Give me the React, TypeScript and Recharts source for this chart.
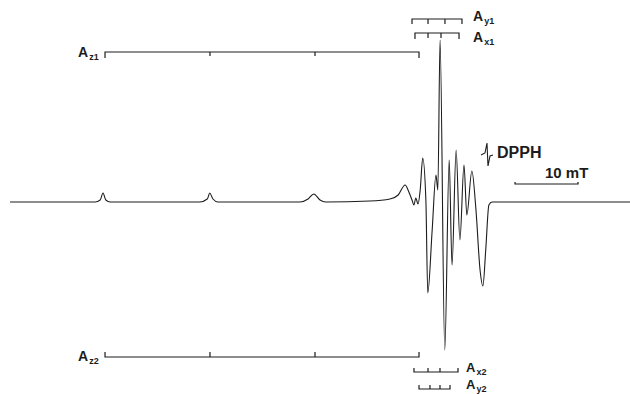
import { Line, LineChart, XAxis, YAxis } from "recharts";

// field in mT, intensity in arbitrary units (baseline = 0)
const fieldMT = [
  1.6, 9.5, 15.1, 15.9, 16.35, 16.8, 17.5, 31.7, 32.9, 33.3, 33.8, 34.6, 47.6, 48.9, 49.8, 50.8, 51.7,
  58.7, 61.9, 63.2, 64.3, 64.9, 65.4, 65.7, 66.0, 66.35, 66.7, 67.1, 67.6, 67.9, 68.6, 69.2, 69.5,
  69.85, 70.6, 71.3, 71.75, 72.4, 73.0, 73.65, 74.1, 74.9, 75.55, 76.2, 76.65, 77.1, 77.6, 78.1, 100,
];
const signal = [
  0, 0, 0, 2, 9, 2, 0, 0, 3, 9, 3, 0, 0, 3, 8, 2, 0,
  1, 3, 7, 17, 10, 2, -3, 4, -2, 12, 44, 2, -91, -28, 27, 12,
  162, -148, 42, -63, 52, -38, 37, -13, 31, -8, -68, -84, -48, -3, 0, 0,
];

const dpphField = [76.35, 76.98, 77.3, 77.46, 77.78, 78.25];
const dpphSignal = [47, 49, 59, 36, 46, 47];

// stick diagrams: line positions (mT)
const az1 = [16.67, 33.33, 50.0, 66.51];
const az2 = [16.67, 33.33, 50.0, 66.51];
const ay1 = [65.4, 67.94, 70.63, 73.33];
const ax1 = [65.87, 67.94, 70.0, 72.86];
const ax2 = [65.71, 67.94, 69.84, 72.7];
const ay2 = [66.51, 68.25, 69.84, 71.43];

const scaleBarStart = 81.75;
const scaleBarLength = 10; // mT

const spectrum = fieldMT.map((b, i) => ({ b, v: signal[i] }));
const dpph = dpphField.map((b, i) => ({ b, v: dpphSignal[i] }));

function bracket(pos: number[], level: number, tick: number, endTick = tick) {
  const pts: { b: number; v: number }[] = [];
  pos.forEach((p, i) => {
    const isEnd = i === 0 || i === pos.length - 1;
    const t = isEnd ? endTick : tick;
    if (i === 0) {
      pts.push({ b: p, v: level + t }, { b: p, v: level });
    } else if (i === pos.length - 1) {
      pts.push({ b: p, v: level }, { b: p, v: level + t });
    } else {
      pts.push({ b: p, v: level }, { b: p, v: level + t }, { b: p, v: level });
    }
  });
  return pts;
}

const sticks = [
  bracket(az1, 150, -4, -6),
  bracket(az2, -155, 5, 5),
  bracket(ay1, 183, -5, -5),
  bracket(ax1, 169, -5, -6),
  bracket(ax2, -170, 4, 4),
  bracket(ay2, -187, 4, 4),
  bracket([scaleBarStart, scaleBarStart + scaleBarLength], 18, 2, 2),
];

const ink = "#1c1c1c";
const font = "'Liberation Sans', Arial, sans-serif";

function Lbl({ x, y, main, sub, size = 14 }: { x: number; y: number; main: string; sub: string; size?: number }) {
  return (
    <div
      style={{
        position: "absolute",
        left: x,
        top: y,
        fontFamily: font,
        fontWeight: 700,
        fontSize: size,
        lineHeight: 1,
        color: ink,
        whiteSpace: "nowrap",
      }}
    >
      {main}
      <span style={{ fontSize: 9, position: "relative", top: 3, marginLeft: 1 }}>{sub}</span>
    </div>
  );
}

export default function App() {
  return (
    <div
      style={{
        position: "absolute",
        left: 0,
        top: 0,
        width: 630,
        height: 394,
        overflow: "hidden",
        background: "#fff",
      }}
    >
      <LineChart width={630} height={394} margin={{ top: 0, right: 0, bottom: 0, left: 0 }}>
        <XAxis type="number" dataKey="b" domain={[0, 100]} allowDataOverflow hide />
        <YAxis type="number" domain={[-192, 202]} allowDataOverflow hide />
        <Line
          data={spectrum}
          dataKey="v"
          type="monotoneX"
          stroke={ink}
          strokeWidth={1.1}
          dot={false}
          activeDot={false}
          isAnimationActive={false}
        />
        <Line
          data={dpph}
          dataKey="v"
          type="linear"
          stroke={ink}
          strokeWidth={1.1}
          dot={false}
          activeDot={false}
          isAnimationActive={false}
        />
        {sticks.map((s, i) => (
          <Line
            key={i}
            data={s}
            dataKey="v"
            type="linear"
            stroke={ink}
            strokeWidth={1.2}
            dot={false}
            activeDot={false}
            isAnimationActive={false}
          />
        ))}
      </LineChart>
      <Lbl x={473} y={9} main="A" sub="y1" />
      <Lbl x={473} y={30} main="A" sub="x1" />
      <Lbl x={78} y={45} main="A" sub="z1" />
      <Lbl x={78} y={349} main="A" sub="z2" />
      <Lbl x={466} y={361} main="A" sub="x2" size={13} />
      <Lbl x={466} y={378} main="A" sub="y2" size={13} />
      <div
        style={{
          position: "absolute",
          left: 497,
          top: 145,
          fontFamily: font,
          fontWeight: 700,
          fontSize: 16,
          lineHeight: 1,
          color: ink,
        }}
      >
        DPPH
      </div>
      <div
        style={{
          position: "absolute",
          left: 545,
          top: 165,
          fontFamily: font,
          fontWeight: 700,
          fontSize: 15,
          lineHeight: 1,
          color: ink,
        }}
      >
        10 mT
      </div>
    </div>
  );
}
